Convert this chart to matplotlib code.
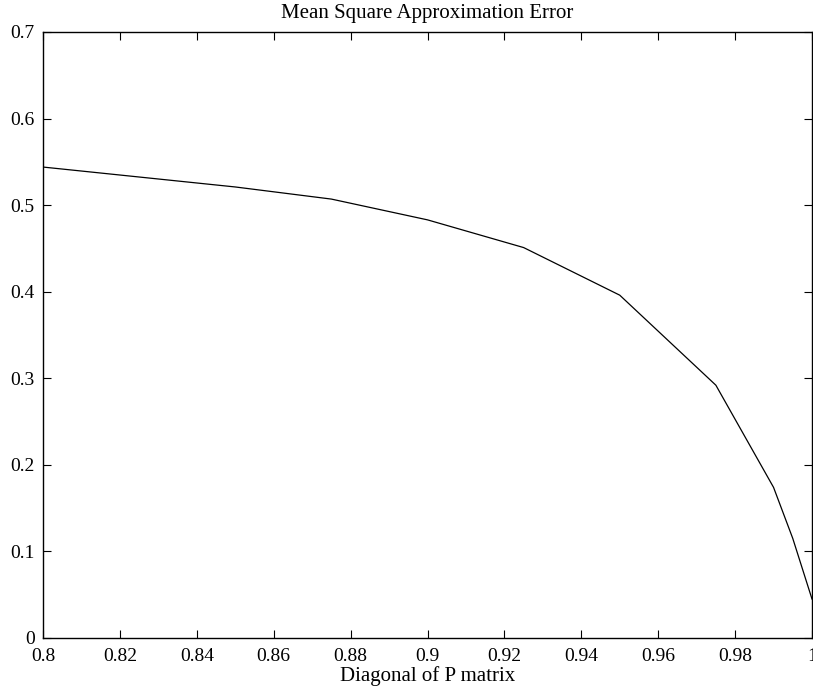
import matplotlib
matplotlib.use("Agg")
import matplotlib.pyplot as plt

# values
diag_p = [0.8, 0.85, 0.875, 0.9, 0.925, 0.95, 0.975, 0.99, 0.995, 1.0]
mse = [0.544, 0.521, 0.507, 0.483, 0.451, 0.396, 0.292, 0.174, 0.115, 0.045]

x_ticks = [0.8, 0.82, 0.84, 0.86, 0.88, 0.9, 0.92, 0.94, 0.96, 0.98, 1.0]
x_tick_labels = ['0.8', '0.82', '0.84', '0.86', '0.88', '0.9', '0.92', '0.94', '0.96', '0.98', '1']
y_ticks = [0, 0.1, 0.2, 0.3, 0.4, 0.5, 0.6, 0.7]
y_tick_labels = ['0', '0.1', '0.2', '0.3', '0.4', '0.5', '0.6', '0.7']

plt.rcParams['font.family'] = ['Liberation Serif', 'DejaVu Serif']
plt.rcParams['font.size'] = 14

fig = plt.figure(figsize=(8.13, 6.92), dpi=100)
ax = fig.add_axes([43 / 813, 1 - 638 / 692, (812 - 43) / 813, (638 - 32) / 692])

ax.plot(diag_p, mse, color='black', linewidth=0.9)

ax.set_xlim(0.8, 1.0)
ax.set_ylim(0, 0.7)
ax.set_xticks(x_ticks)
ax.set_xticklabels(x_tick_labels)
ax.set_yticks(y_ticks)
ax.set_yticklabels(y_tick_labels)
ax.tick_params(direction='in', length=6, width=0.8, top=True, right=True)
ax.tick_params(axis='x', pad=7)
ax.tick_params(axis='y', pad=6)
for s in ax.spines.values():
    s.set_linewidth(1.0)

ax.set_title('Mean Square Approximation Error', fontsize=15, pad=10)
ax.set_xlabel('Diagonal of P matrix', fontsize=15, labelpad=1)

fig.savefig('out.png', dpi=100)
